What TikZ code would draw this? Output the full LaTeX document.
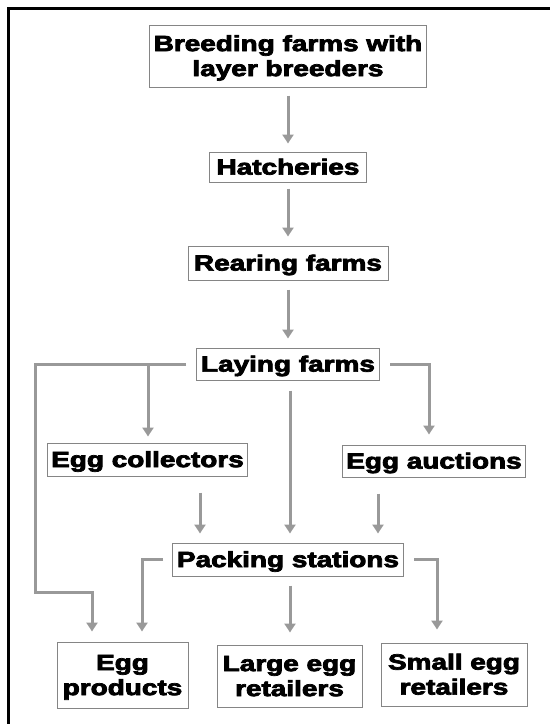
\documentclass[tikz,border=0pt]{standalone}
\usepackage{fontspec}
\usepackage{graphicx}
\setmainfont{Liberation Sans}
\newfontfamily\heavyfont{Liberation Sans}[BoldFeatures={FakeBold=3.2}]
\usetikzlibrary{arrows.meta}
\definecolor{arrgray}{HTML}{999999}
\definecolor{boxgray}{HTML}{858585}
\newcommand\lbl[1]{\raisebox{-2.6pt}[\height][\depth]{\scalebox{1.27}[1]{\begin{tabular}{@{}c@{}}#1\end{tabular}}}}
\tikzset{
  box/.style={draw=boxgray, line width=1pt, fill=white, inner xsep=4pt, inner ysep=0pt,
    font=\fontsize{22}{25}\selectfont\heavyfont\bfseries},
  arr/.style={draw=arrgray, line width=3pt, -{Triangle[width=11pt,length=9pt]}},
}
\begin{document}
\begin{tikzpicture}[x=1pt,y=-1pt]
\useasboundingbox (0,0) rectangle (550,724);
\draw[line width=2.5pt] (8.5,724) -- (8.5,8.5) -- (550,8.5);

\node[box, minimum width=276pt, minimum height=62pt] (B) at (288,56) {\lbl{Breeding farms with\\layer breeders}};
\node[box, minimum width=157pt, minimum height=30pt] (H) at (288,167) {\lbl{Hatcheries}};
\node[box, minimum width=200pt, minimum height=34pt] (R) at (288,263) {\lbl{Rearing farms}};
\node[box, minimum width=183pt, minimum height=32pt] (L) at (288,364) {\lbl{Laying farms}};
\node[box, minimum width=199pt, minimum height=33pt] (EC) at (147.5,459.5) {\lbl{Egg collectors}};
\node[box, minimum width=169pt, minimum height=32pt] (EA) at (434,461) {\lbl{Egg auctions}};
\node[box, minimum width=231pt, minimum height=33pt] (P) at (288,559.5) {\lbl{Packing stations}};
\node[box, minimum width=131pt, minimum height=66pt] (EP) at (122.5,675) {\lbl{Egg\\products}};
\node[box, minimum width=145pt, minimum height=62pt] (LE) at (289.5,676) {\lbl{Large egg\\retailers}};
\node[box, minimum width=146pt, minimum height=63pt] (SE) at (454,674.5) {\lbl{Small egg\\retailers}};

\coordinate (xa) at (92,0);
\coordinate (xb) at (148,0);
\coordinate (xc) at (429,0);
\coordinate (xd) at (290,0);
\coordinate (xe) at (200,0);
\coordinate (xf) at (378,0);
\coordinate (xg) at (142,0);
\coordinate (xh) at (437,0);
\coordinate (bend) at (35,592);

\draw[arr, shorten <=8pt, shorten >=8pt] (B.south) -- (H.north);
\draw[arr, shorten <=6pt, shorten >=9pt] (H.south) -- (R.north);
\draw[arr, shorten <=9pt, shorten >=9pt] (R.south) -- (L.north);

\draw[arr, shorten >=10pt] ([xshift=-10pt]L.west) -| (bend) -| (EP.north -| xa);
\draw[arr, shorten >=6pt] (L.west -| xb) -- (EC.north -| xb);
\draw[arr, shorten >=10pt] ([xshift=10pt]L.east) -| (EA.north -| xc);
\draw[arr, shorten <=10pt, shorten >=9pt] (L.south -| xd) -- (P.north -| xd);

\draw[arr, shorten <=16pt, shorten >=9pt] (EC.south -| xe) -- (P.north -| xe);
\draw[arr, shorten <=16pt, shorten >=9pt] (EA.south -| xf) -- (P.north -| xf);

\draw[arr, shorten >=10pt] ([xshift=-9pt]P.west) -| (EP.north -| xg);
\draw[arr, shorten <=9pt, shorten >=12pt] (P.south -| xd) -- (LE.north -| xd);
\draw[arr, shorten >=13pt] ([xshift=10pt]P.east) -| (SE.north -| xh);
\end{tikzpicture}
\end{document}
